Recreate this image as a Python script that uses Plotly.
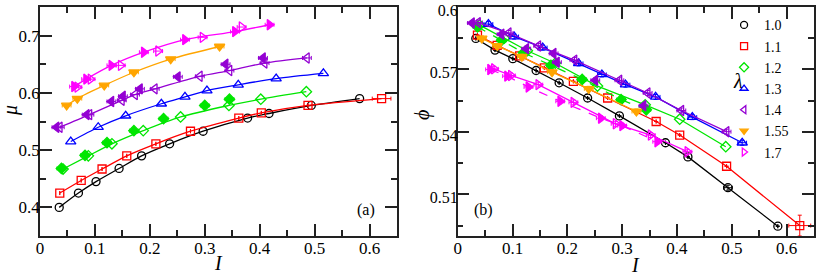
import plotly.graph_objects as go

# ---------------- data ----------------
lambdas = ["1.0", "1.1", "1.2", "1.3", "1.4", "1.55", "1.7"]

# Panel (a): mu vs I
mu_I_10 = [0.035, 0.070, 0.102, 0.144, 0.185, 0.236, 0.297, 0.378, 0.417, 0.494, 0.582]
mu_10 = [0.400, 0.425, 0.445, 0.468, 0.490, 0.511, 0.533, 0.556, 0.564, 0.578, 0.590]
mu_I_11 = [0.036, 0.075, 0.113, 0.158, 0.211, 0.274, 0.362, 0.403, 0.488, 0.622]
mu_11 = [0.425, 0.447, 0.467, 0.490, 0.511, 0.533, 0.556, 0.565, 0.578, 0.590]
mu_I_12 = [0.042, 0.088, 0.131, 0.188, 0.256, 0.344, 0.402, 0.485]
mu_12 = [0.467, 0.490, 0.511, 0.534, 0.558, 0.578, 0.589, 0.602]
mu_I_12f = [0.039, 0.082, 0.122, 0.171, 0.225, 0.300, 0.345]
mu_12f = [0.468, 0.491, 0.513, 0.534, 0.555, 0.578, 0.589]
mu_I_13 = [0.056, 0.106, 0.156, 0.221, 0.264, 0.304, 0.361, 0.430, 0.516]
mu_13 = [0.515, 0.540, 0.560, 0.581, 0.593, 0.604, 0.614, 0.625, 0.634]
mu_I_14 = [0.036, 0.090, 0.149, 0.173, 0.209, 0.291, 0.345, 0.409, 0.486]
mu_14 = [0.540, 0.562, 0.587, 0.597, 0.607, 0.629, 0.639, 0.652, 0.661]
mu_I_14f = [0.030, 0.085, 0.130, 0.151, 0.182, 0.251, 0.338, 0.406]
mu_14f = [0.540, 0.562, 0.585, 0.594, 0.607, 0.628, 0.650, 0.661]
mu_I_155 = [0.0485, 0.068, 0.117, 0.171, 0.238, 0.327]
mu_155 = [0.578, 0.590, 0.613, 0.636, 0.659, 0.681]
mu_I_17 = [0.068, 0.092, 0.147, 0.215, 0.296, 0.367]
mu_17 = [0.610, 0.624, 0.648, 0.673, 0.697, 0.715]
mu_I_17f = [0.062, 0.084, 0.130, 0.189, 0.264, 0.355, 0.418]
mu_17f = [0.611, 0.624, 0.648, 0.671, 0.693, 0.707, 0.719]

# Panel (b): phi vs I
phi_I_10 = [0.033, 0.068, 0.1005, 0.143, 0.185, 0.237, 0.295, 0.379, 0.420, 0.493, 0.584]
phi_10 = [0.5849, 0.5793, 0.5752, 0.5695, 0.5636, 0.5563, 0.5477, 0.5348, 0.5280, 0.5132, 0.4947]
phi_I_11 = [0.036, 0.072, 0.113, 0.158, 0.211, 0.2735, 0.362, 0.405, 0.4905, 0.624]
phi_11 = [0.5865, 0.5816, 0.5765, 0.5708, 0.5643, 0.5563, 0.5450, 0.5385, 0.5235, 0.4950]
phi_I_12 = [0.040, 0.085, 0.127, 0.178, 0.255, 0.342, 0.405, 0.489]
phi_12 = [0.5913, 0.5850, 0.5790, 0.5730, 0.5620, 0.5530, 0.5461, 0.5329]
phi_I_12f = [0.036, 0.080, 0.120, 0.170, 0.227, 0.298, 0.344]
phi_12f = [0.5905, 0.5840, 0.5780, 0.5720, 0.5652, 0.5555, 0.5506]
phi_I_13 = [0.056, 0.103, 0.155, 0.2205, 0.263, 0.306, 0.361, 0.428, 0.519]
phi_13 = [0.5918, 0.5858, 0.5805, 0.5729, 0.5676, 0.5627, 0.5568, 0.5471, 0.5348]
phi_I_14 = [0.037, 0.093, 0.147, 0.213, 0.295, 0.3465, 0.408, 0.4905]
phi_14 = [0.5925, 0.5875, 0.5813, 0.5745, 0.5648, 0.5587, 0.5503, 0.5401]
phi_I_14f = [0.026, 0.080, 0.125, 0.175, 0.181, 0.251, 0.339]
phi_14f = [0.5923, 0.5869, 0.5800, 0.5777, 0.5735, 0.5648, 0.5526]
phi_I_155 = [0.044, 0.072, 0.117, 0.172, 0.239, 0.326]
phi_155 = [0.5849, 0.5813, 0.5761, 0.5687, 0.5607, 0.5498]
phi_I_17 = [0.066, 0.097, 0.147, 0.211, 0.288, 0.352, 0.419]
phi_17 = [0.5703, 0.5671, 0.5627, 0.5542, 0.5439, 0.5385, 0.5305]
phi_I_17f = [0.059, 0.090, 0.129, 0.187, 0.261, 0.300, 0.364]
phi_17f = [0.5700, 0.5668, 0.5616, 0.5547, 0.5466, 0.5430, 0.5353]

# error bars (half widths)
err_I_small = 0.008
err_I_red_last = 0.02
err_phi_small = 0.0012
err_phi_red_last = 0.005

x_ticks = [0, 0.1, 0.2, 0.3, 0.4, 0.5, 0.6]
mu_ticks = [0.4, 0.5, 0.6, 0.7]
phi_ticks = [0.51, 0.54, 0.57, 0.6]

# ---------------- styles ----------------
colors = ["#000000", "#ff0000", "#00e600", "#0000ff", "#9400d3", "#ffa500", "#ff00ff"]
symbols = ["circle-open", "square-open", "diamond-open", "triangle-up-open",
           "triangle-left-open", "triangle-down", "triangle-right-open"]
filled_symbols = {2: "diamond", 4: "triangle-left", 6: "triangle-right"}
msize = [8, 8, 8, 9, 9, 9, 9]
SERIF = "'Liberation Serif', 'Times New Roman', serif"

fig = go.Figure()


def line(x, y, c, xa, ya, dash="solid", shape="spline"):
    fig.add_trace(go.Scatter(x=x, y=y, mode="lines", xaxis=xa, yaxis=ya,
                             line=dict(color=c, width=1.3, dash=dash, shape=shape, smoothing=0.8),
                             showlegend=False, hoverinfo="skip"))


def marks(x, y, i, xa, ya, filled=False, ex=None, ey=None):
    sym = filled_symbols.get(i, symbols[i]) if filled else symbols[i]
    kw = {}
    if ex is not None:
        kw["error_x"] = dict(type="data", array=ex, color=colors[i], thickness=1, width=2)
    if ey is not None:
        kw["error_y"] = dict(type="data", array=ey, color=colors[i], thickness=1, width=2)
    fig.add_trace(go.Scatter(x=x, y=y, mode="markers", xaxis=xa, yaxis=ya,
                             marker=dict(symbol=sym, size=msize[i], color=colors[i],
                                         line=dict(color=colors[i], width=1.3)),
                             showlegend=False, **kw))


def const(n, v):
    return [v] * n


# ---- panel (a)
left_sets = [
    (mu_I_10, mu_10, None, None),
    (mu_I_11, mu_11, None, None),
    (mu_I_12, mu_12, mu_I_12f, mu_12f),
    (mu_I_13, mu_13, None, None),
    (mu_I_14, mu_14, mu_I_14f, mu_14f),
    (mu_I_155, mu_155, None, None),
    (mu_I_17, mu_17, mu_I_17f, mu_17f),
]
for i, (x, y, xf, yf) in enumerate(left_sets):
    c = colors[i]
    if i == 6:
        line(xf, yf, c, "x", "y")
    else:
        line(x, y, c, "x", "y")
    ex = None
    if i == 1:
        ex = const(len(x) - 1, 0.0) + [err_I_red_last * 0.85]
    if i in (4, 5, 6):
        ex = const(len(x), err_I_small)
    marks(x, y, i, "x", "y", ex=ex)
    if xf is not None:
        marks(xf, yf, i, "x", "y", filled=True, ex=const(len(xf), err_I_small))

# ---- panel (b)
right_sets = [
    (phi_I_10, phi_10, None, None),
    (phi_I_11, phi_11, None, None),
    (phi_I_12, phi_12, phi_I_12f, phi_12f),
    (phi_I_13, phi_13, None, None),
    (phi_I_14, phi_14, phi_I_14f, phi_14f),
    (phi_I_155, phi_155, None, None),
    (phi_I_17, phi_17, phi_I_17f, phi_17f),
]
for i, (x, y, xf, yf) in enumerate(right_sets):
    c = colors[i]
    line(x, y, c, "x2", "y2", shape="linear")
    if xf is not None and i in (2, 6):
        line(xf, yf, c, "x2", "y2", dash="dash", shape="linear")
    ex = None
    ey = None
    if i == 0:
        ex = [0] * 9 + [err_I_small, 0]
        ey = [0] * 9 + [err_phi_small, 0]
    if i == 1:
        ex = const(len(x) - 1, 0.0) + [err_I_red_last]
        ey = const(len(x) - 1, 0.0) + [err_phi_red_last]
    if i in (3, 4, 5, 6):
        ex = const(len(x), err_I_small)
        ey = const(len(x), err_phi_small)
    marks(x, y, i, "x2", "y2", ex=ex, ey=ey)
    if xf is not None:
        marks(xf, yf, i, "x2", "y2", filled=True,
              ex=const(len(xf), err_I_small), ey=const(len(xf), err_phi_small))

# ---- legend entries
for i, lab in enumerate(lambdas):
    fig.add_trace(go.Scatter(x=[None], y=[None], mode="markers", xaxis="x2", yaxis="y2",
                             name=lab,
                             marker=dict(symbol=symbols[i], size=7, color=colors[i],
                                         line=dict(color=colors[i], width=1.3)),
                             showlegend=True))

axis_common = dict(showline=True, linecolor="#222", linewidth=1.5, mirror="allticks",
                   ticks="inside", ticklen=12, tickwidth=1.5, tickcolor="#222",
                   showgrid=False, zeroline=False, automargin=False,
                   ticklabeloverflow="allow",
                   tickfont=dict(family=SERIF, size=17, color="black"))
minor_common = dict(ticks="inside", ticklen=6, tickwidth=1.5, tickcolor="#222")


def ann(text, x, y, size=20, angle=0):
    return dict(text=text, x=x, y=y, xref="paper", yref="paper", xanchor="center",
                yanchor="middle", showarrow=False, textangle=angle,
                font=dict(family=SERIF, size=size, color="black"))


fig.update_layout(
    width=817, height=279,
    margin=dict(l=40, r=3, t=7, b=43),
    paper_bgcolor="white", plot_bgcolor="white",
    font=dict(family=SERIF, color="black"),
    xaxis=dict(domain=[0, 0.4612], range=[0, 0.65], tickvals=x_ticks,
               minor=dict(dtick=0.05, tick0=0, **minor_common),
               ticklabelstandoff=-4, anchor="y", **axis_common),
    yaxis=dict(domain=[0, 1], range=[0.35, 0.75], tickvals=mu_ticks,
               minor=dict(dtick=0.05, tick0=0.35, **minor_common),
               ticklabelstandoff=-5, anchor="x", **axis_common),
    xaxis2=dict(domain=[0.5397, 1], range=[0, 0.65], tickvals=x_ticks,
                minor=dict(dtick=0.05, tick0=0, **minor_common),
                ticklabelstandoff=-4, anchor="y2", **axis_common),
    yaxis2=dict(domain=[0, 1], range=[0.49, 0.6], tickvals=phi_ticks,
                minor=dict(dtick=0.015, tick0=0.495, **minor_common),
                ticklabelstandoff=-5, ticklabelshift=3, anchor="x2", **axis_common),
    legend=dict(x=0.8838, y=0.99, xanchor="left", yanchor="top",
                bgcolor="rgba(0,0,0,0)", borderwidth=0,
                font=dict(family=SERIF, size=14, color="black"),
                itemwidth=30, tracegroupgap=0),
    showlegend=True,
    annotations=[
        ann("<i>μ</i>", -0.0388, 0.55, angle=-90),
        ann("<i>ϕ</i>", 0.4935, 0.528, angle=-90),
        ann("<i>I</i>", 0.2306, -0.12),
        ann("<i>I</i>", 0.7700, -0.125),
        ann("(a)", 0.4212, 0.1135, size=16),
        ann("(b)", 0.5736, 0.1135, size=16),
        ann("<i>λ</i>", 0.9018, 0.675),
    ],
)

fig.update_yaxes(tickfont=dict(family=SERIF, size=16, color="black"), selector=dict(anchor="x2"))

fig.write_html("out.html", config={"displayModeBar": False},
               post_script="document.body.style.margin='0px';")
